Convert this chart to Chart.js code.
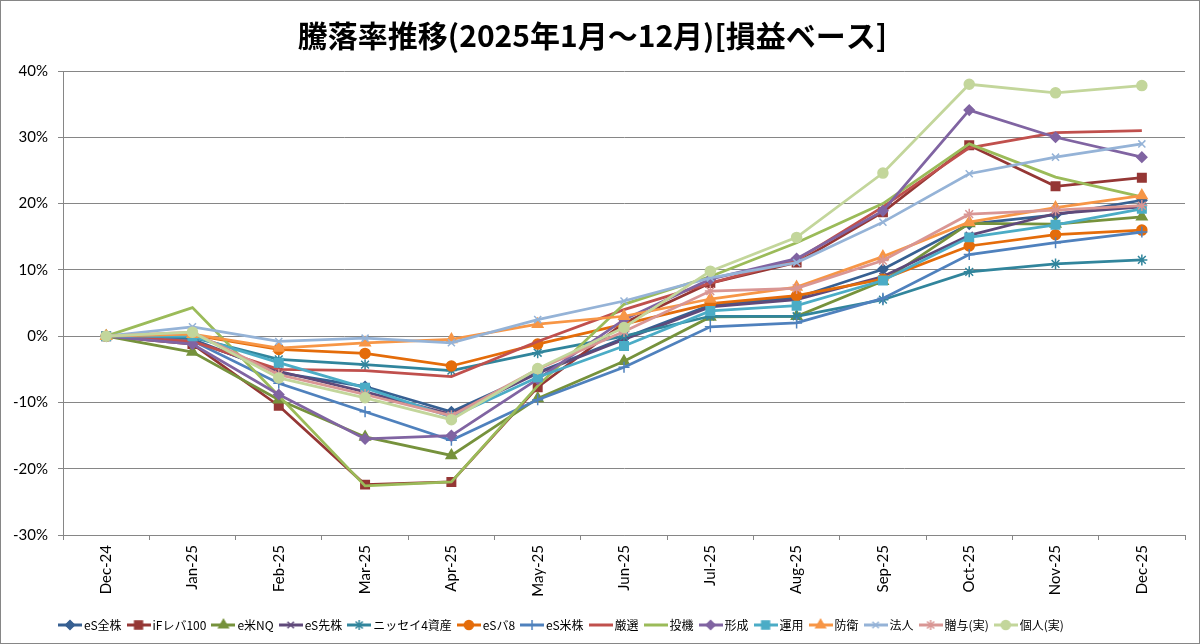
<!DOCTYPE html>
<html>
<head>
<meta charset="utf-8">
<title>騰落率推移</title>
<script src="https://cdn.jsdelivr.net/npm/chart.js@4.4.1/dist/chart.umd.min.js"></script>
<style>
  html, body { margin: 0; padding: 0; background: #fff; }
  #wrap { width: 1200px; height: 644px; }
</style>
</head>
<body>
<div id="wrap"><canvas id="rateChart" width="1200" height="644"></canvas></div>
<script>
// months on the x axis
const months = ["Dec-24", "Jan-25", "Feb-25", "Mar-25", "Apr-25", "May-25", "Jun-25",
                "Jul-25", "Aug-25", "Sep-25", "Oct-25", "Nov-25", "Dec-25"];

// y axis range (percent)
const yMin = -30;
const yMax = 40;
const yStep = 10;

// values (percent)
const esZenkabu  = [0, -0.5,  -5.5,  -7.6, -11.4, -5.5, -0.3, 4.7,  5.8, 10.1, 16.9, 18.3, 20.5];
const ifLeva100  = [0, -1.2, -10.5, -22.4, -22.0, -7.7,  2.0, 8.0, 11.1, 18.7, 28.8, 22.6, 23.9];
const eBeiNQ     = [0, -2.4,  -9.6, -15.2, -18.0, -9.4, -3.8, 2.9,  3.0,  8.3, 17.0, 16.9, 18.0];
const esSenkabu  = [0, -0.7,  -5.3,  -8.4, -11.8, -5.6, -0.5, 4.4,  5.5,  9.0, 15.2, 18.5, 19.5];
const nissay4    = [0, -0.2,  -3.5,  -4.3,  -5.2, -2.5,  0.0, 3.0,  3.0,  5.5,  9.7, 10.9, 11.5];
const esBa8      = [0,  0.2,  -2.0,  -2.6,  -4.5, -1.2,  1.8, 4.9,  6.1,  8.6, 13.6, 15.3, 16.0];
const esBeikabu  = [0, -0.7,  -7.1, -11.4, -15.7, -9.6, -4.7, 1.4,  2.0,  5.7, 12.3, 14.1, 15.7];
const gensen     = [0, -0.8,  -5.0,  -5.2,  -6.1, -0.8,  4.0, 8.0, 11.5, 19.5, 28.4, 30.7, 31.0];
const touki      = [0,  4.3,  -9.0, -22.6, -22.0, -7.5,  4.8, 9.0, 14.1, 20.0, 29.0, 24.0, 21.0];
const keisei     = [0, -1.2,  -8.8, -15.5, -15.0, -6.5,  2.5, 8.6, 11.7, 18.9, 34.1, 30.0, 27.0];
const unyou      = [0,  0.0,  -4.0,  -7.8, -12.2, -6.2, -1.5, 3.8,  4.6,  8.4, 14.9, 16.8, 19.2];
const bouei      = [0,  0.3,  -1.8,  -1.0,  -0.5,  1.8,  3.0, 5.6,  7.4, 12.0, 17.2, 19.4, 21.2];
const houjin     = [0,  1.4,  -0.8,  -0.3,  -1.0,  2.5,  5.3, 8.8, 11.1, 17.2, 24.5, 27.0, 29.0];
const zouyo      = [0,  0.6,  -5.8,  -8.8, -12.0, -5.0,  0.7, 6.8,  7.2, 11.4, 18.4, 19.0, 19.7];
const kojin      = [0,  0.6,  -6.3,  -9.3, -12.6, -4.9,  1.3, 9.8, 14.9, 24.6, 38.0, 36.7, 37.8];

const seriesNames = ["eS全株", "iFレバ100", "e米NQ", "eS先株", "ニッセイ4資産", "eSバ8", "eS米株",
                     "厳選", "投機", "形成", "運用", "防衛", "法人", "贈与(実)", "個人(実)"];
const seriesValues = [esZenkabu, ifLeva100, eBeiNQ, esSenkabu, nissay4, esBa8, esBeikabu,
                      gensen, touki, keisei, unyou, bouei, houjin, zouyo, kojin];

// Excel-like colours and markers
const seriesColors = ["#376092", "#953735", "#76923C", "#5F497A", "#31859C", "#E46C0A", "#4F81BD",
                      "#C0504D", "#9BBB59", "#8064A2", "#4BACC6", "#F79646", "#95B3D7", "#D99694", "#C3D69B"];
const seriesMarkers = ["rectRot", "rect", "triangle", "crossRot", "star", "circle", "cross",
                       false, false, "rectRot", "rect", "triangle", "crossRot", "star", "circle"];
const markerRadius = { rectRot: 5, rect: 6, triangle: 6, crossRot: 5, star: 5.5, circle: 5, cross: 5.5 };

// little line+marker picture for each legend entry
function legendIcon(color, style) {
    const c = document.createElement("canvas");
    c.width = 24;
    c.height = 14;
    const ctx = c.getContext("2d");
    ctx.strokeStyle = color;
    ctx.fillStyle = color;
    ctx.lineWidth = 3;
    ctx.beginPath();
    ctx.moveTo(0, 7);
    ctx.lineTo(24, 7);
    ctx.stroke();
    if (style) {
        ctx.lineWidth = 1.5;
        Chart.helpers.drawPoint(ctx, { pointStyle: style, radius: markerRadius[style] - 0.5, borderWidth: 1.5, rotation: 0 }, 12, 7);
    }
    return c;
}
const legendIcons = seriesColors.map((col, i) => legendIcon(col, seriesMarkers[i]));

const datasets = seriesNames.map((name, i) => ({
    label: name,
    data: seriesValues[i],
    borderColor: seriesColors[i],
    backgroundColor: seriesColors[i],
    borderWidth: 2.75,
    pointStyle: seriesMarkers[i] || "circle",
    pointRadius: seriesMarkers[i] ? markerRadius[seriesMarkers[i]] : 0,
    pointHoverRadius: seriesMarkers[i] ? markerRadius[seriesMarkers[i]] : 0,
    pointBackgroundColor: seriesColors[i],
    pointBorderColor: seriesColors[i],
    pointBorderWidth: 1.5,
    tension: 0,
    fill: false,
    order: seriesNames.length - i // later series on top, like Excel
}));

const legendPad = 9;
const legendStartX = 62; // where the first legend entry starts, like the original

// white background, outer frame, and legend nudged left as in the original
const framePlugin = {
    id: "frame",
    afterLayout(chart) {
        const lg = chart.legend;
        if (!lg || !lg.lineWidths) return;
        const cur = (lg.left + legendPad + lg.right - lg.lineWidths[0]) / 2;
        const d = legendStartX - cur;
        lg.left += d;
        lg.right += d;
    },
    beforeDraw(chart) {
        const ctx = chart.ctx;
        ctx.save();
        ctx.fillStyle = "#ffffff";
        ctx.fillRect(0, 0, chart.width, chart.height);
        ctx.restore();
    },
    afterDraw(chart) {
        const ctx = chart.ctx;
        ctx.save();
        ctx.strokeStyle = "#868686";
        ctx.lineWidth = 1;
        ctx.strokeRect(0.5, 0.5, chart.width - 1, chart.height - 1);
        ctx.restore();
    }
};

const tickFont = { family: "Lato, 'Liberation Sans', sans-serif", size: 15 };
const jpFont = "'Noto Sans CJK JP', sans-serif";

new Chart(document.getElementById("rateChart"), {
    type: "line",
    data: { labels: months, datasets: datasets },
    options: {
        responsive: false,
        animation: false,
        layout: { padding: { left: 0, right: 15, top: 0, bottom: 3 } },
        scales: {
            x: {
                offset: true,
                grid: { display: true, drawOnChartArea: false, drawTicks: true, tickLength: 5, offset: true, color: "#868686" },
                border: { display: true, color: "#868686" },
                ticks: { font: tickFont, color: "#000", minRotation: 90, maxRotation: 90, padding: 5, autoSkip: false },
                afterFit(scale) { scale.height = 75; }
            },
            y: {
                min: yMin,
                max: yMax,
                grid: { color: "#868686", tickLength: 5, lineWidth: 1 },
                border: { display: true, color: "#868686" },
                ticks: { stepSize: yStep, font: tickFont, color: "#000", padding: 10, callback: (v) => v + "%" },
                afterFit(scale) { scale.width = 63; }
            }
        },
        plugins: {
            title: {
                display: true,
                text: "騰落率推移(2025年1月～12月)[損益ベース]",
                color: "#000",
                font: { family: jpFont, size: 30, weight: "bold" },
                padding: { top: 18, bottom: 17 }
            },
            legend: {
                position: "bottom",
                labels: {
                    usePointStyle: true,
                    pointStyleWidth: 16,
                    padding: legendPad,
                    color: "#000",
                    font: { family: jpFont, size: 12 },
                    sort: (a, b) => a.datasetIndex - b.datasetIndex,
                    generateLabels(chart) {
                        const items = Chart.defaults.plugins.legend.labels.generateLabels(chart);
                        items.forEach((it) => { it.pointStyle = legendIcons[it.datasetIndex]; });
                        return items;
                    }
                }
            },
            tooltip: { enabled: false }
        }
    },
    plugins: [framePlugin]
});
</script>
</body>
</html>
